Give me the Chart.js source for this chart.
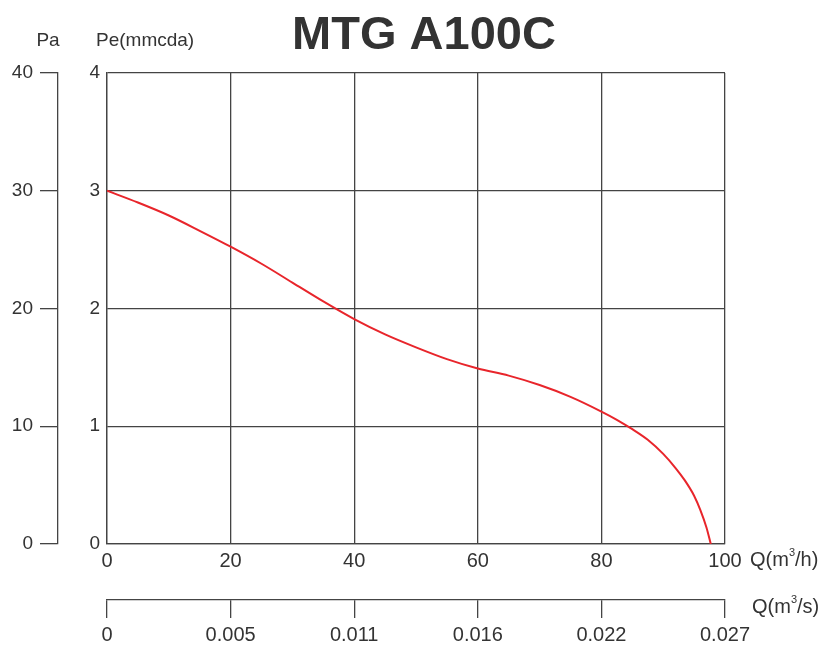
<!DOCTYPE html>
<html>
<head>
<meta charset="utf-8">
<title>MTG A100C</title>
<script src="https://cdn.jsdelivr.net/npm/chart.js@4"></script>
<style>
    body { margin: 0; background: #ffffff; }
    #wrap { width: 836px; height: 661px; }
</style>
</head>
<body>
<div id="wrap"><canvas id="curveChart" width="836" height="661"></canvas></div>
<script>
// --- Data ---
const flowM3h = [0, 5, 10, 15, 20, 25, 30, 35, 40, 45, 50, 55, 60, 65, 70, 75, 80, 82.5, 85, 87.5, 90, 92, 93.5, 95, 96, 97, 97.7];
const pressurePe = [3.0, 2.9, 2.79, 2.66, 2.525, 2.38, 2.22, 2.06, 1.91, 1.78, 1.67, 1.57, 1.49, 1.43, 1.35, 1.25, 1.125, 1.055, 0.975, 0.885, 0.765, 0.645, 0.54, 0.41, 0.29, 0.14, 0];
const flowM3sLabels = ['0', '0.005', '0.011', '0.016', '0.022', '0.027'];
const peTicks = [0, 1, 2, 3, 4];
const paTicks = [0, 10, 20, 30, 40];

const FONT = "'Liberation Sans', Arial, sans-serif";
const INK = '#333333';
const LINE = '#444444';

// extra labels: title, axis units
const labelsPlugin = {
    id: 'extraLabels',
    afterDraw(chart) {
        const ctx = chart.ctx;
        const area = chart.chartArea;
        ctx.save();
        ctx.fillStyle = INK;
        ctx.textBaseline = 'middle';

        ctx.font = 'bold 47px ' + FONT;
        ctx.textAlign = 'center';
        ctx.fillText('MTG A100C', 424, 36);

        ctx.font = '19px ' + FONT;
        ctx.fillText('Pa', 48, 41);
        ctx.textAlign = 'left';
        ctx.fillText('Pe(mmcda)', 96, 41);

        // unit with superscript 3
        const unit = (pre, post, x, y) => {
            ctx.font = '20px ' + FONT;
            ctx.fillText(pre, x, y);
            let w = ctx.measureText(pre).width;
            ctx.font = '11px ' + FONT;
            ctx.fillText('3', x + w, y - 7);
            w += ctx.measureText('3').width;
            ctx.font = '20px ' + FONT;
            ctx.fillText(post, x + w, y);
        };
        unit('Q(m', '/h)', area.right + 25, area.bottom + 16);
        unit('Q(m', '/s)', area.right + 27, area.bottom + 63);
        ctx.restore();
    }
};

const ctx = document.getElementById('curveChart').getContext('2d');

new Chart(ctx, {
    type: 'scatter',
    data: {
        datasets: [{
            label: 'MTG A100C',
            data: flowM3h.map((q, i) => ({ x: q, y: pressurePe[i] })),
            showLine: true,
            borderColor: '#e8252b',
            borderWidth: 2,
            pointRadius: 0,
            cubicInterpolationMode: 'monotone',
            yAxisID: 'y',
            xAxisID: 'x'
        }]
    },
    options: {
        responsive: false,
        animation: false,
        layout: {
            padding: { top: 73, right: 111, left: 0, bottom: 0 }
        },
        plugins: {
            legend: { display: false },
            tooltip: { enabled: false }
        },
        scales: {
            y: {
                position: 'left',
                weight: 0,
                min: 0,
                max: 4,
                afterBuildTicks: (scale) => { scale.ticks = peTicks.map(v => ({ value: v })); },
                grid: { color: LINE, lineWidth: 1.3, drawTicks: false },
                border: { display: true, color: LINE, width: 1.3 },
                ticks: { color: INK, padding: 7, font: { family: FONT, size: 19 } },
                afterFit: (scale) => { scale.width = 49; }
            },
            pa: {
                position: 'left',
                weight: 1,
                min: 0,
                max: 40,
                afterBuildTicks: (scale) => { scale.ticks = paTicks.map(v => ({ value: v })); },
                grid: { color: LINE, lineWidth: 1.3, drawOnChartArea: false, tickLength: 18 },
                border: { display: true, color: LINE, width: 1.3 },
                ticks: { color: INK, padding: 7, font: { family: FONT, size: 19 } },
                afterFit: (scale) => { scale.width = 58; }
            },
            x: {
                type: 'linear',
                position: 'bottom',
                weight: 0,
                min: 0,
                max: 100,
                ticks: { stepSize: 20, color: INK, padding: 5, maxRotation: 0, font: { family: FONT, size: 20 } },
                grid: { color: LINE, lineWidth: 1.3, drawTicks: false },
                border: { display: true, color: LINE, width: 1.3 },
                afterFit: (scale) => { scale.height = 56; }
            },
            qs: {
                type: 'linear',
                position: 'bottom',
                weight: 1,
                min: 0,
                max: 100,
                ticks: {
                    stepSize: 20,
                    color: INK,
                    padding: 5,
                    maxRotation: 0,
                    font: { family: FONT, size: 20 },
                    callback: (value, index) => flowM3sLabels[index]
                },
                grid: { color: LINE, lineWidth: 1.3, drawOnChartArea: false, tickLength: 18 },
                border: { display: true, color: LINE, width: 1.3 },
                afterFit: (scale) => { scale.height = 61; }
            }
        }
    },
    plugins: [labelsPlugin]
});
</script>
</body>
</html>
